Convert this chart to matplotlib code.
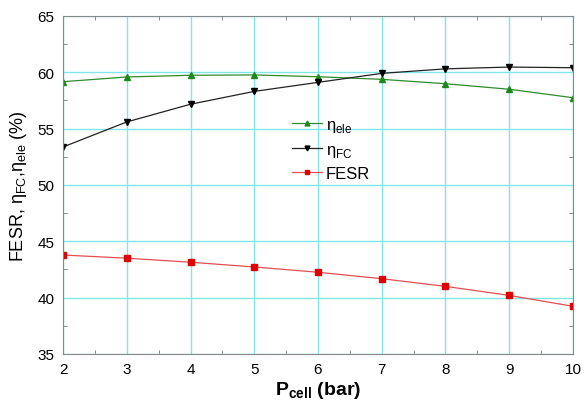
import numpy as np
import matplotlib.pyplot as plt
from matplotlib.ticker import MultipleLocator

plt.rcParams['font.family'] = ['Liberation Sans', 'DejaVu Sans']
plt.rcParams['mathtext.fontset'] = 'custom'
plt.rcParams['mathtext.rm'] = 'Liberation Sans'
plt.rcParams['mathtext.bf'] = 'Liberation Sans:bold'

# cell pressure (bar)
p_cell = [2, 3, 4, 5, 6, 7, 8, 9, 10]
# efficiencies (%)
eta_ele = [59.16, 59.58, 59.73, 59.76, 59.6, 59.37, 58.98, 58.49, 57.74]
eta_fc = [53.37, 55.59, 57.16, 58.3, 59.1, 59.9, 60.3, 60.46, 60.4]
fesr = [43.78, 43.5, 43.14, 42.72, 42.25, 41.68, 41.0, 40.2, 39.23]

fig = plt.figure(figsize=(5.84, 4.02), dpi=100)
ax = fig.add_axes([0.108, 0.117, 0.873, 0.841])

ax.grid(True, which='major', color='#7fe6ea', linewidth=1.0)
ax.set_axisbelow(True)

ax.plot(p_cell, eta_ele, color='#2e8b2e', lw=0.9, marker='^', ms=5,
        mfc='#1a8a1a', mec='#1a8a1a', label=r'η$_{\mathregular{ele}}$')
ax.plot(p_cell, eta_fc, color='#222222', lw=0.9, marker='v', ms=5,
        mfc='black', mec='black', label=r'η$_{\mathregular{FC}}$')
ax.plot(p_cell, fesr, color='#e05050', lw=0.9, marker='s', ms=5,
        mfc='#e00000', mec='#e00000', label='FESR')

ax.set_xlim(2, 10)
ax.set_ylim(35, 65)
ax.xaxis.set_major_locator(MultipleLocator(1))
ax.xaxis.set_minor_locator(MultipleLocator(0.5))
ax.yaxis.set_major_locator(MultipleLocator(5))
ax.yaxis.set_minor_locator(MultipleLocator(2.5))
ax.tick_params(which='both', direction='in', top=True, right=True,
               color='#777777', labelsize=11)
ax.tick_params(which='major', length=0, pad=6)
ax.tick_params(which='minor', length=3)
for s in ax.spines.values():
    s.set_color('#888888')

ax.set_xlabel(r'$\mathbf{P_{cell}}$ (bar)', fontsize=14, fontweight='bold', labelpad=2)
ax.set_ylabel(r'FESR, η$_{\mathregular{FC}}$,η$_{\mathregular{ele}}$ (%)',
              fontsize=13, labelpad=6)

leg = ax.legend(loc='upper left', bbox_to_anchor=(0.42, 0.745), frameon=False,
                handlelength=1.8, handletextpad=0.2, labelspacing=0.45,
                fontsize=12, markerscale=0.7)

fig.savefig('out.png', dpi=100)
